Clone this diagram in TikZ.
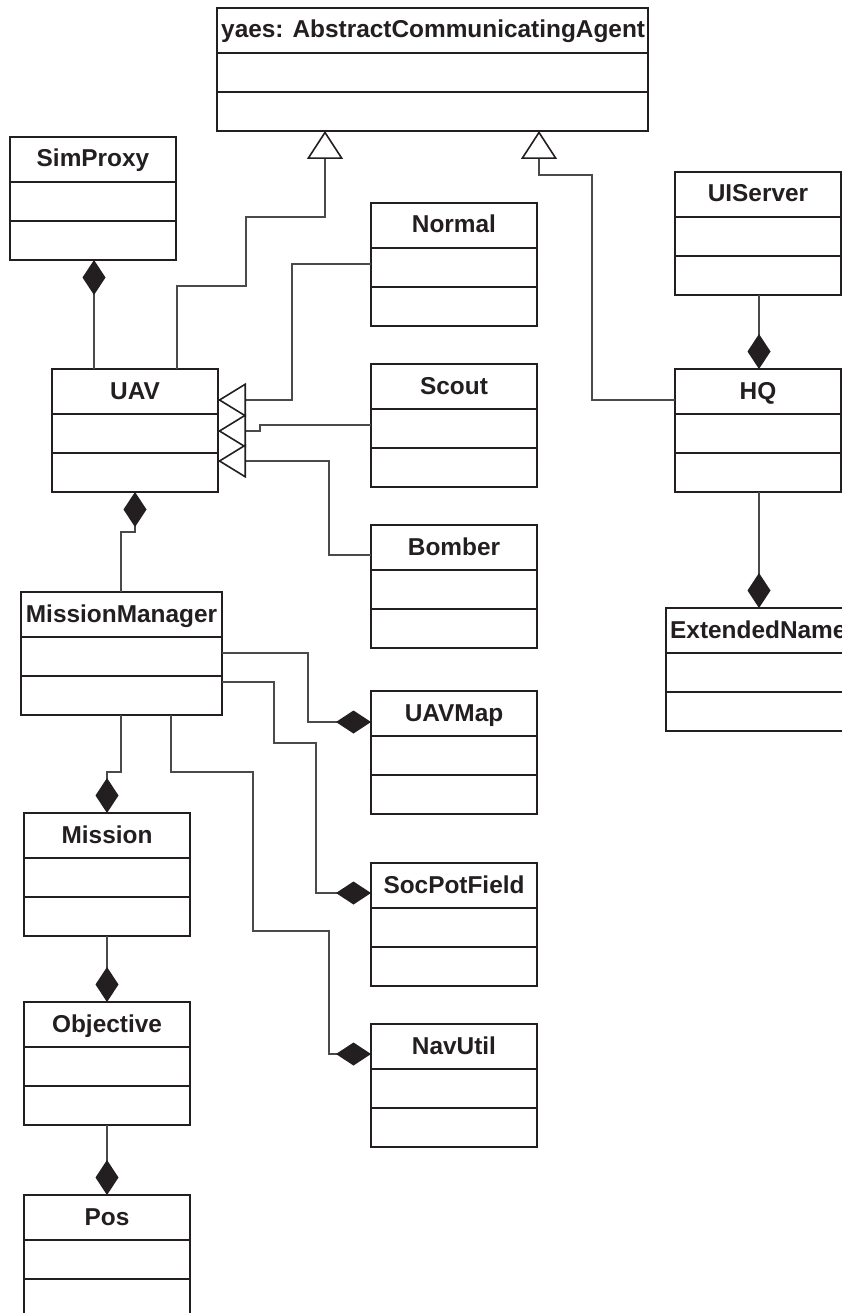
\documentclass[tikz,border=0pt]{standalone}
\usepackage{fontspec}
\setmainfont{Liberation Sans}
\usetikzlibrary{arrows.meta,calc}

\definecolor{ink}{HTML}{231F20}
\definecolor{wire}{HTML}{4A4A4A}

\tikzset{
  classbox/.style={draw=ink, line width=2pt, fill=white, minimum height=123pt,
    inner sep=0pt, outer sep=0pt, anchor=north west},
  classtitle/.style={text=ink, font=\fontsize{24.4}{28}\selectfont\bfseries,
    inner sep=0pt, anchor=base},
  divider/.style={draw=ink, line width=2pt},
  conn/.style={draw=wire, line width=1.2pt},
  genarrow/.style={-{Triangle[length=28pt, width=#1, color=ink, fill=white, line width=1.6pt]}},
  genarrow/.default=34pt,
  comparrow/.style={-{Diamond[length=35pt, width=23pt, color=ink]}},
}

% class box: name, left, top, width, title (centred)
\newcommand\classnode[5]{%
  \node[classbox, minimum width=#4pt] (#1) at (#2,#3) {};
  \draw[divider] ($(#1.north west)+(0,45)$) -- ($(#1.north east)+(0,45)$);
  \draw[divider] ($(#1.north west)+(0,84)$) -- ($(#1.north east)+(0,84)$);
  \node[classtitle] (#1-title) at ($(#1.north)+(0,30)$) {#5};
}
% class box with its title set from the left edge
\newcommand\leftclassnode[5]{%
  \node[classbox, minimum width=#4pt] (#1) at (#2,#3) {};
  \draw[divider] ($(#1.north west)+(0,45)$) -- ($(#1.north east)+(0,45)$);
  \draw[divider] ($(#1.north west)+(0,84)$) -- ($(#1.north east)+(0,84)$);
  \node[classtitle, anchor=base west] (#1-title) at ($(#1.north west)+(4,30)$) {#5};
}

\begin{document}
\begin{tikzpicture}[x=1pt, y=-1pt]
\clip (0,0) rectangle (842,1313);
\fill[white] (0,0) rectangle (842,1313);

% classes
\leftclassnode{agent}{217}{8}{431}{yaes: AbstractCommunicatingAgent}
\classnode{simproxy}{10}{137}{166}{SimProxy}
\classnode{normal}{371}{203}{166}{Normal}
\classnode{uiserver}{675}{172}{166}{UIServer}
\classnode{uav}{52}{369}{166}{UAV}
\classnode{scout}{371}{364}{166}{Scout}
\classnode{hq}{675}{369}{166}{HQ}
\classnode{bomber}{371}{525}{166}{Bomber}
\classnode{mm}{21}{592}{201}{MissionManager}
\leftclassnode{extname}{666}{608}{200}{ExtendedName}
\classnode{uavmap}{371}{691}{166}{UAVMap}
\classnode{mission}{24}{813}{166}{Mission}
\classnode{socpot}{371}{863}{166}{SocPotField}
\classnode{objective}{24}{1002}{166}{Objective}
\classnode{navutil}{371}{1024}{166}{NavUtil}
\classnode{pos}{24}{1195}{166}{Pos}

% generalisations
\draw[conn, genarrow=36pt] (177,0 |- uav.north) |- (246,286) |- (325,217)
  -- (325,0 |- agent.south);
\draw[conn, genarrow=36pt] ($(hq.north west)+(0,31)$) -| (592,175)
  -| (539,0 |- agent.south);
\draw[conn, genarrow] ($(normal.north west)+(0,61)$) -| (292,400)
  -- ($(uav.north east)+(0,31)$);
\draw[conn, genarrow] ($(scout.north west)+(0,61)$) -| (260,431)
  -- ($(uav.north east)+(0,62)$);
\draw[conn, genarrow] ($(bomber.north west)+(0,30)$) -| (329,461)
  -- ($(uav.north east)+(0,92)$);

% compositions
\draw[conn, comparrow] (94,0 |- uav.north) -- (94,0 |- simproxy.south);
\draw[conn, comparrow] (121,0 |- mm.north) |- (135,532) -- (135,0 |- uav.south);
\draw[conn, comparrow] ($(mm.north east)+(0,61)$) -| (308,722)
  -- ($(uavmap.north west)+(0,31)$);
\draw[conn, comparrow] ($(mm.north east)+(0,90)$) -| (274,743) -| (316,893)
  -- ($(socpot.north west)+(0,30)$);
\draw[conn, comparrow] (171,0 |- mm.south) |- (253,772) |- (329,931)
  |- ($(navutil.north west)+(0,30)$);
\draw[conn, comparrow] (121,0 |- mm.south) |- (107,772) -- (107,0 |- mission.north);
\draw[conn, comparrow] (107,0 |- mission.south) -- (107,0 |- objective.north);
\draw[conn, comparrow] (107,0 |- objective.south) -- (107,0 |- pos.north);
\draw[conn, comparrow] (759,0 |- uiserver.south) -- (759,0 |- hq.north);
\draw[conn, comparrow] (759,0 |- hq.south) -- (759,0 |- extname.north);
\end{tikzpicture}
\end{document}
